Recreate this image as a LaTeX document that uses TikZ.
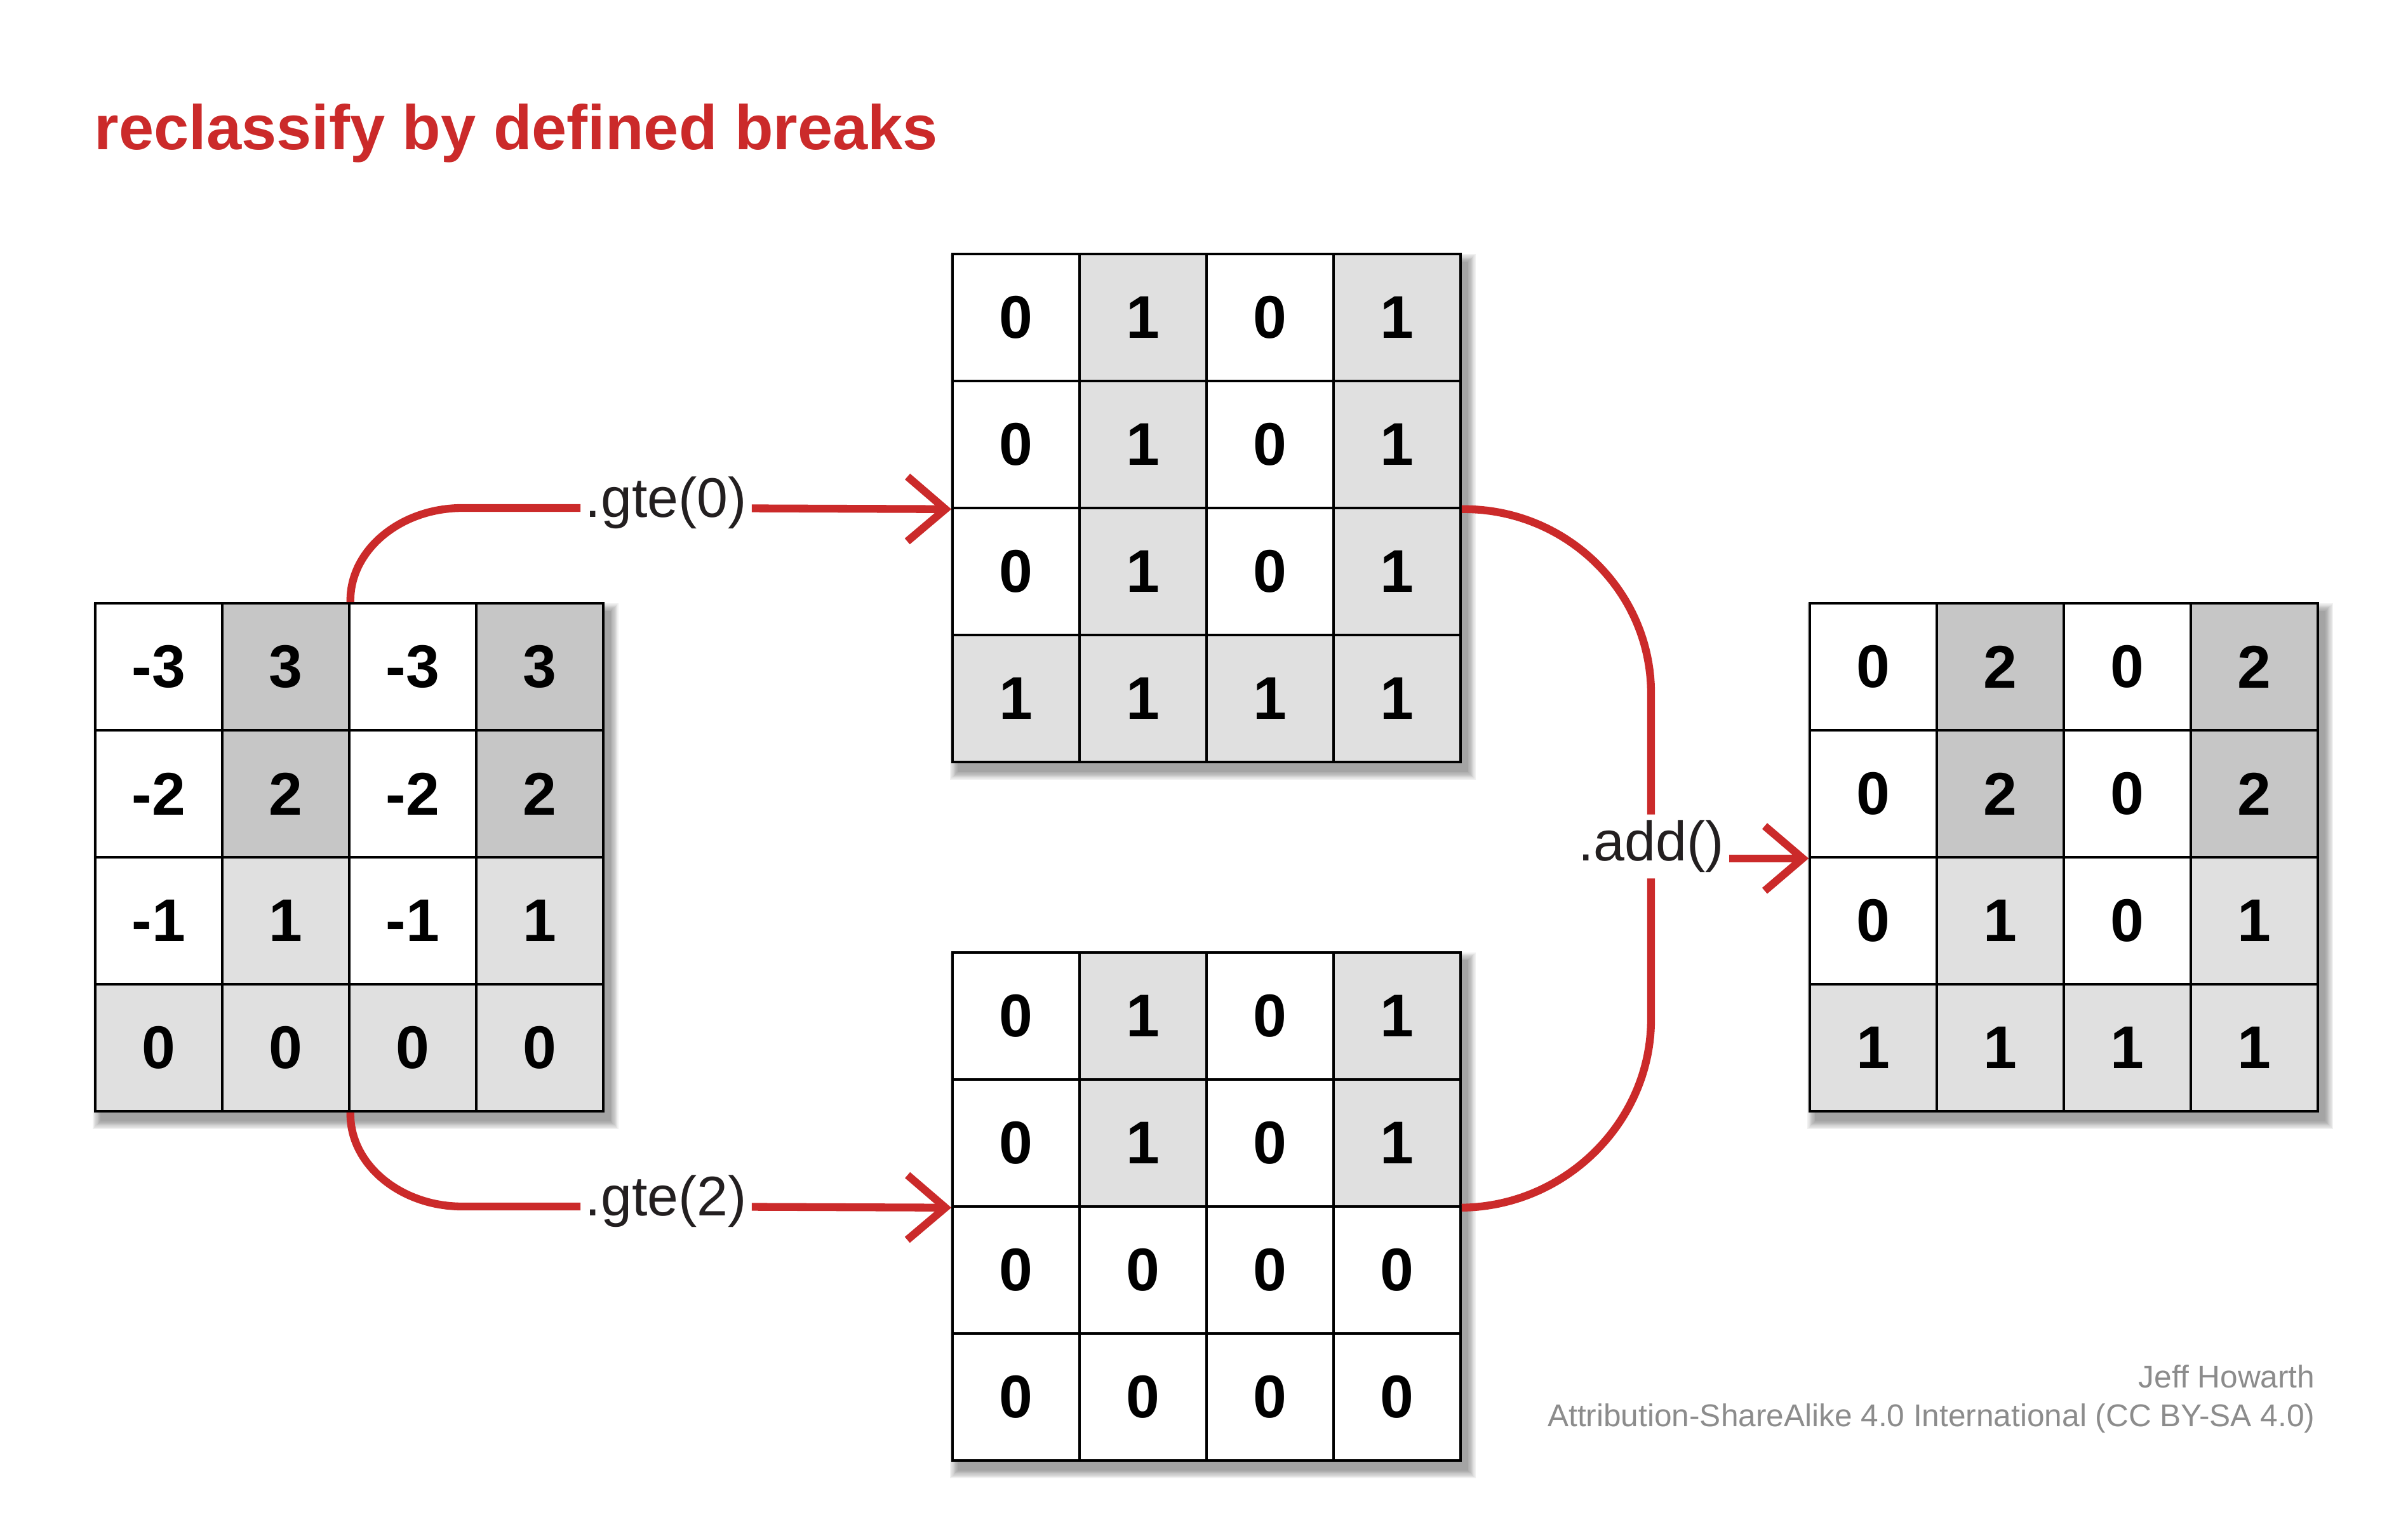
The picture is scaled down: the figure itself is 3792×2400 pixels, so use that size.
\documentclass[tikz,border=0pt]{standalone}
\usepackage{fontspec}
\setmainfont{Liberation Sans}
\usetikzlibrary{arrows.meta}
\definecolor{brickred}{RGB}{203,42,42}
\definecolor{cellL}{RGB}{224,224,224}
\definecolor{cellD}{RGB}{198,198,198}
\definecolor{labelink}{RGB}{35,31,32}
\definecolor{creditgray}{RGB}{140,140,140}
\tikzset{
  cell/.style={draw=black, line width=1pt, minimum size=2cm, inner sep=0pt,
    font=\fontsize{27}{30}\selectfont\bfseries, text=black},
  conn/.style={draw=brickred, line width=3.5pt},
  connarrow/.style={conn, -{Straight Barb[length=17pt, width=29pt]}},
  oplabel/.style={fill=white, inner xsep=2pt, inner ysep=2.5pt, text=labelink,
    font=\fontsize{25}{28}\selectfont},
  raisedlabel/.style={oplabel, text depth=10pt},
  titletext/.style={inner sep=0pt, text=brickred, font=\fontsize{28.2}{32}\selectfont\bfseries},
  credit/.style={inner sep=0pt, text=creditgray, font=\fontsize{14.1}{16}\selectfont},
  gridframe/.style={draw=black, line width=1.3pt},
  gridshadow/.style={fill=black, opacity=0.06}
}
\newcommand{\rastergrid}[4]{%
  \foreach \k in {0,...,6} {
    \fill[gridshadow] ({#2+10-14+2*\k},{#3+14-14+2*\k}) rectangle ({#2+810+14-2*\k},{#3+814+14-2*\k});
  }
  \foreach \val/\fl [count=\i from 0] in {#4} {
    \pgfmathtruncatemacro{\rowi}{\i/4}
    \pgfmathtruncatemacro{\coli}{mod(\i,4)}
    \node[cell, fill=\fl] (#1-\rowi-\coli) at ({#2+100+200*\coli},{#3+100+200*\rowi}) {\val};
  }
  \draw[gridframe] (#2,#3) rectangle ({#2+800},{#3+800});
}
\begin{document}
\begin{tikzpicture}[x=0.01cm, y=-0.01cm]
\useasboundingbox (0,0) rectangle (3792,2400);
\fill[white] (0,0) rectangle (3792,2400);

\node[titletext, anchor=base west] (title) at (148,236) {reclassify by defined breaks};

\rastergrid{A}{150}{950}{-3/white, 3/cellD, -3/white, 3/cellD,
  -2/white, 2/cellD, -2/white, 2/cellD,
  -1/white, 1/cellL, -1/white, 1/cellL,
  0/cellL, 0/cellL, 0/cellL, 0/cellL}
\rastergrid{B}{1500}{400}{0/white, 1/cellL, 0/white, 1/cellL,
  0/white, 1/cellL, 0/white, 1/cellL,
  0/white, 1/cellL, 0/white, 1/cellL,
  1/cellL, 1/cellL, 1/cellL, 1/cellL}
\rastergrid{C}{1500}{1500}{0/white, 1/cellL, 0/white, 1/cellL,
  0/white, 1/cellL, 0/white, 1/cellL,
  0/white, 0/white, 0/white, 0/white,
  0/white, 0/white, 0/white, 0/white}
\rastergrid{D}{2850}{950}{0/white, 2/cellD, 0/white, 2/cellD,
  0/white, 2/cellD, 0/white, 2/cellD,
  0/white, 1/cellL, 0/white, 1/cellL,
  1/cellL, 1/cellL, 1/cellL, 1/cellL}

\node[raisedlabel] (g0) at (1049,800) {.gte(0)};
\node[raisedlabel] (g2) at (1049,1900) {.gte(2)};
\node[oplabel] (add) at (2600,1333) {.add()};

\coordinate (c0) at (728,800);
\coordinate (c2) at (728,1900);
\coordinate (r0) at (2600,1092);
\coordinate (r2) at (2600,1605);

\draw[conn] (A-0-1.north east) .. controls (550,867) and (630,800) .. (c0) -- (g0);
\draw[connarrow] (g0) -- (B-1-0.south west);
\draw[conn] (A-3-1.south east) .. controls (550,1833) and (630,1900) .. (c2) -- (g2);
\draw[connarrow] (g2) -- (C-1-0.south west);

\draw[conn] (B-1-3.south east) .. controls (2466,800) and (2600,931) .. (r0) -- (add);
\draw[conn] (C-1-3.south east) .. controls (2466,1900) and (2600,1766) .. (r2) -- (add);
\draw[connarrow] (add.east |- D-1-0.south west) -- (D-1-0.south west);

\node[credit, anchor=base east] (cr1) at (3646,2185) {Jeff Howarth};
\node[credit, anchor=base east] (cr2) at (3646,2246) {Attribution-ShareAlike 4.0 International (CC BY-SA 4.0)};
\end{tikzpicture}
\end{document}
